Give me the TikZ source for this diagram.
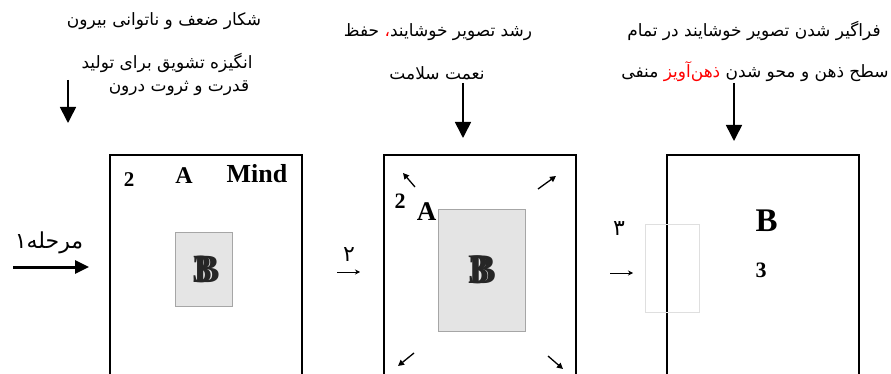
\documentclass[tikz,border=0pt]{standalone}
\usepackage{fontspec}
\setmainfont{Liberation Serif}
\newfontfamily\farsi[Script=Arabic]{DejaVu Sans}
\TeXXeTstate=1
\usetikzlibrary{arrows.meta,positioning}
\begin{document}
\begin{tikzpicture}[x=1pt, y=-1pt,
    every node/.style={inner sep=0pt},
    fa/.style={font=\farsi\fontsize{17}{19}\selectfont},
    stage/.style={font=\farsi\fontsize{22}{24}\selectfont},
    lt/.style={font=\bfseries\fontsize{#1}{#1}\selectfont},
    frame/.style={line width=1.2pt},
    down/.style={line width=1.6pt, -{Triangle[width=16pt,length=16pt]}},
    push/.style={line width=1pt, -{Stealth[width=5pt,length=5pt]}},
    spread/.style={line width=1.3pt, -{Triangle[width=6pt,length=6pt]}}]
    \useasboundingbox (0,0) rectangle (891,374);

    \node[fa] (t1) at (164,21) {\beginR شکار ضعف و ناتوانی بیرون\endR};
    \node[fa] (t2) at (167,63) {\beginR انگیزه تشویق برای تولید\endR};
    \node[fa] (t3) at (179,88) {\beginR قدرت و ثروت درون\endR};
    \node[fa] (m1) at (438,32) {\beginR حفظ\endR\ \textcolor{red}{،}\beginR رشد تصویر خوشایند\endR};
    \node[fa] (m2) at (437,73) {\beginR نعمت سلامت\endR};
    \node[fa] (r1) at (754,31) {\beginR فراگیر شدن تصویر خوشایند در تمام\endR};
    \node[fa] (r2) at (755,72) {\beginR منفی\endR\ \textcolor{red}{\beginR ذهن‌آویز\endR}\ \beginR سطح ذهن و محو شدن\endR};

    \coordinate (d1) at (68,80);  \coordinate (e1) at (68,123);
    \coordinate (d2) at (463,83); \coordinate (e2) at (463,138);
    \coordinate (d3) at (734,83); \coordinate (e3) at (734,141);
    \draw[down] (d1) -- (e1);
    \draw[down] (d2) -- (e2);
    \draw[down] (d3) -- (e3);

    \draw[frame] (110,374) -- (110,155) -- (302,155) -- (302,374);
    \draw[frame] (384,374) -- (384,155) -- (576,155) -- (576,374);
    \draw[frame] (667,374) -- (667,155) -- (859,155) -- (859,374);

    \node[stage] (s1) at (49,243) {\beginR مرحله۱\endR};
    \coordinate (a1) at (13,267); \coordinate (b1) at (89,267);
    \draw[line width=3pt, -{Triangle[width=13pt,length=14pt]}] (a1) -- (b1);
    \node[stage] (s2) at (349,255) {۲};
    \coordinate (a2) at (337,272); \coordinate (b2) at (360,272);
    \draw[push] (a2) -- (b2);
    \node[stage] (s3) at (619,229) {۳};
    \coordinate (a3) at (610,273); \coordinate (b3) at (633,273);
    \draw[push] (a3) -- (b3);

    % first picture
    \node[lt=21] (n1) at (129,180) {2};
    \node[lt=24] (p1) at (184,176) {A};
    \node[lt=26] (mind) at (257,174) {Mind};
    \node[draw=gray!70, fill=gray!20, minimum width=57pt, minimum height=74pt] (g1) at (203.5,269) {};
    \node[lt=40, black!85] (q1) at (207,269) {\rlap{\kern-1pt 3}B};

    % second picture
    \node[lt=22] (n2) at (400,201) {2};
    \node[lt=27] (p2) at (426.5,212) {A};
    \node[draw=gray!70, fill=gray!25, fill opacity=0.85, minimum width=87pt, minimum height=122pt] (g2) at (481.5,270) {};
    \node[lt=42, black!85] (q2) at (482,270) {\rlap{\kern0pt 3}B};
    \coordinate (c1) at (415,187); \coordinate (h1) at (403,173);
    \coordinate (c2) at (538,189); \coordinate (h2) at (556,176);
    \coordinate (c3) at (414,353); \coordinate (h3) at (398,366);
    \coordinate (c4) at (548,356); \coordinate (h4) at (563,369);
    \draw[spread] (c1) -- (h1);
    \draw[spread] (c2) -- (h2);
    \draw[spread] (c3) -- (h3);
    \draw[spread] (c4) -- (h4);

    % third picture
    \node[draw=gray!25, line width=1pt, minimum width=54pt, minimum height=88pt] (g3) at (672,268) {};
    \node[lt=33] (q3) at (766.5,221) {B};
    \node[lt=22] (n3) at (761,270) {3};
\end{tikzpicture}
\end{document}
